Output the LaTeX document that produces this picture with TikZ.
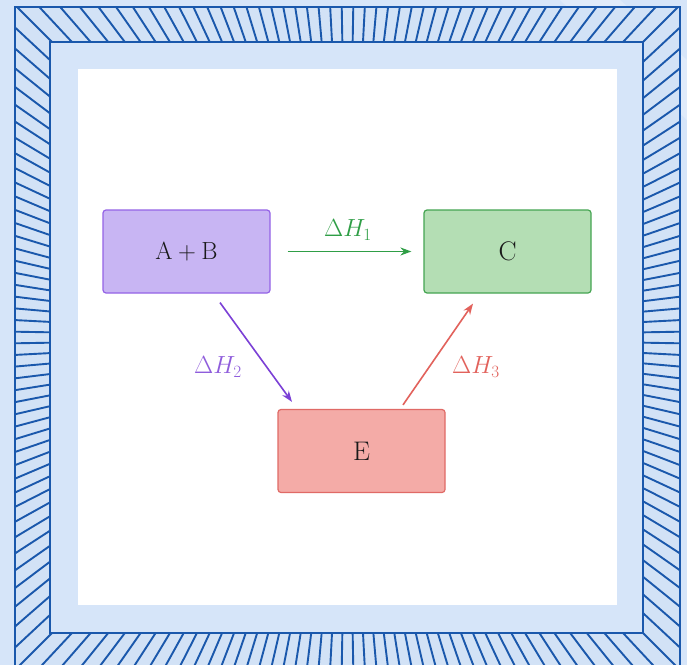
\documentclass[tikz,border=0pt]{standalone}
\usetikzlibrary{arrows.meta,calc}
\definecolor{bgblue}{HTML}{D6E5F9}
\definecolor{bandblue}{HTML}{D2E2F6}
\definecolor{framecol}{HTML}{1A58AC}
\definecolor{purfill}{HTML}{C8B5F3}
\definecolor{purline}{HTML}{9463E6}
\definecolor{purarrow}{HTML}{7B40D6}
\definecolor{grnfill}{HTML}{B4DEB4}
\definecolor{grnline}{HTML}{45A552}
\definecolor{grnarrow}{HTML}{2F9E46}
\definecolor{redfill}{HTML}{F4ABA7}
\definecolor{redline}{HTML}{E06A66}
\definecolor{redarrow}{HTML}{E2625C}
\definecolor{txt}{HTML}{1A1A1A}
\tikzset{
  box/.style={rounded corners=3bp, minimum width=167bp, minimum height=83bp, line width=1.2bp, inner sep=0pt, text=txt, font=\fontsize{27}{32}\selectfont},
  conn/.style={line width=1.6bp, -{Stealth[length=11bp,width=8bp]}},
  lbl/.style={font=\fontsize{26}{30}\selectfont},
  hatch/.style={draw=framecol, line width=1.9bp},
}
\begin{document}
\begin{tikzpicture}[x=1bp,y=-1bp]
\useasboundingbox (0,0) rectangle (687,665);
\clip (0,0) rectangle (687,665);
% background
\fill[bgblue] (0,0) rectangle (687,665);
\fill[white, opacity=0.25] (560,0) -- (620,0) -- (687,60) -- (687,120) -- cycle;
% hatched band
\fill[bandblue] (15,7) rectangle (680,668);
\begin{scope}
  \clip (15,7) rectangle (680,668);
  \foreach \a in {0,2,...,358} \draw[hatch] (347.5,337.5) -- ++(\a+1:720);
\end{scope}
\fill[bgblue] (50,42) rectangle (643,633);
\draw[framecol, line width=2.4bp] (15,7) rectangle (680,668);
\draw[framecol, line width=2.4bp] (50,42) rectangle (643,633);
% white area
\fill[white] (78,69) rectangle (617,605);
% nodes
\node[box, fill=purfill, draw=purline] (AB) at (186.5,251.5) {$\mathrm{A}+\mathrm{B}$};
\node[box, fill=grnfill, draw=grnline] (C) at (507.5,251.5) {C};
\node[box, fill=redfill, draw=redline] (E) at (361.5,451) {E};
% connectors
\coordinate (s2) at ($(AB.south)+(33.5,9)$);
\coordinate (e2) at ($(E.north)+(-69.5,-7)$);
\coordinate (s3) at ($(E.north)+(41.5,-4)$);
\coordinate (e3) at ($(C.south)+(-34.5,10)$);
\draw[conn, grnarrow, shorten <=17bp, shorten >=12bp] (AB.east) -- (C.west);
\draw[conn, purarrow] (s2) -- (e2);
\draw[conn, redarrow] (s3) -- (e3);
% labels
\node[lbl, text=grnarrow] (l1) at (348,230) {$\Delta H_1$};
\node[lbl, text=purarrow!85!white] (l2) at (218,367) {$\Delta H_2$};
\node[lbl, text=redarrow] (l3) at (476,367) {$\Delta H_3$};
\end{tikzpicture}
\end{document}
